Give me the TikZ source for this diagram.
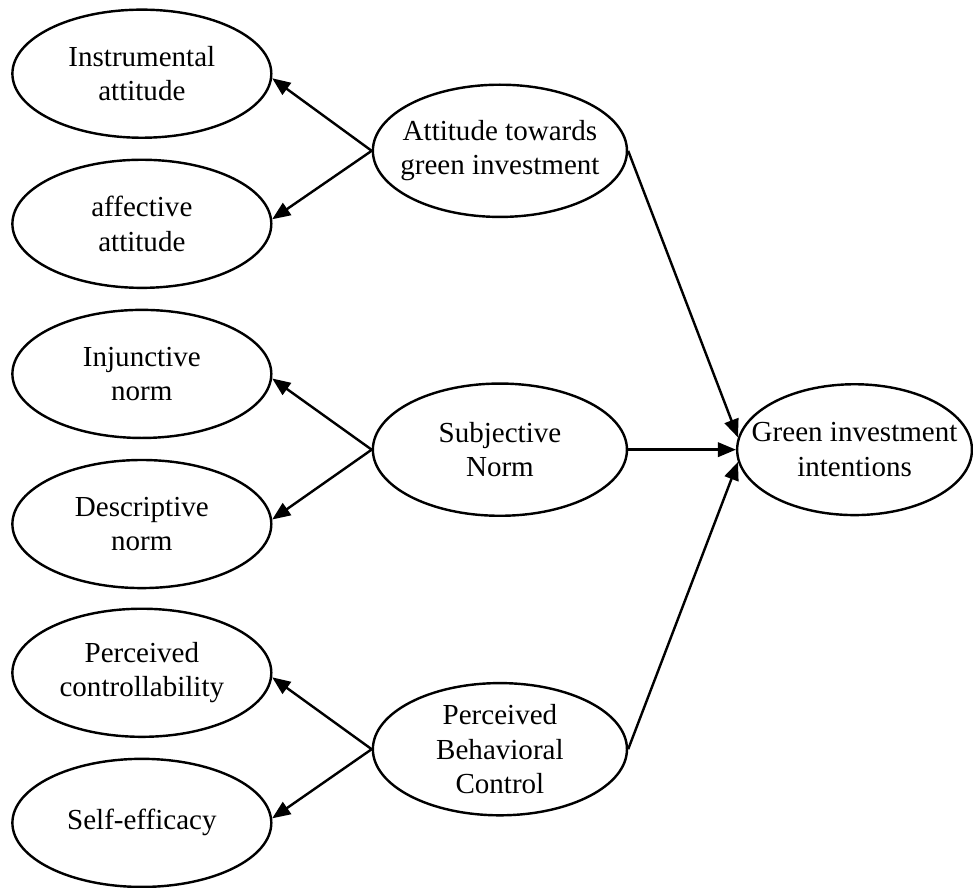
\documentclass[tikz,border=0pt]{standalone}
\usepackage{fontspec}
\setmainfont{Liberation Serif}
\usetikzlibrary{positioning,arrows.meta,shapes.geometric}

\begin{document}
\begin{tikzpicture}[>={Triangle[length=7.5pt,width=6pt]}, line width=1pt,
  dim/.style={ellipse,draw,align=center,inner sep=-12pt,minimum width=3.76cm,minimum height=1.86cm,font=\fontsize{12}{14.2}\selectfont},
  construct/.style={dim,minimum width=3.69cm,minimum height=1.92cm},
  outcome/.style={dim,minimum width=3.41cm,minimum height=1.90cm}]

\useasboundingbox (0,0) rectangle (14.13,-12.89);

% dimensions (left column)
\path
(0,0)   +(2.06,-1.07)   node[dim]  (inst) {Instrumental\\attitude}
        +(2.06,-3.25)   node[dim]  (aff) {affective\\attitude}
        +(2.06,-5.43)   node[dim]  (inj) {Injunctive\\norm}
        +(2.06,-7.61)   node[dim]  (desc) {Descriptive\\norm}
        +(2.06,-9.77)   node[dim]  (ctrl) {Perceived\\controllability}
        +(2.06,-11.95)  node[dim]  (selfeff) {Self-efficacy}
;

% constructs (middle column)
\path
(0,0)   +(7.26,-2.19)   node[construct]  (att) {Attitude towards\\green investment}
        +(7.26,-6.53)   node[construct]  (sn) {Subjective\\Norm}
        +(7.26,-10.88)  node[construct]  (pbc) {Perceived\\Behavioral\\Control}
        +(12.41,-6.53)  node[outcome]    (gii) {Green investment\\intentions}
;

\draw[->] (att.west)--(inst.-2);
\draw[->] (att.west)--(aff.2);
\draw[->] (sn.west)--(inj.-2);
\draw[->] (sn.west)--(desc.2);
\draw[->] (pbc.west)--(ctrl.-2);
\draw[->] (pbc.west)--(selfeff.2);

\draw[->] (att.east)--(gii.174);
\draw[->] (sn.east)--(gii.west);
\draw[->] (pbc.east)--(gii.186);

\end{tikzpicture}
\end{document}
